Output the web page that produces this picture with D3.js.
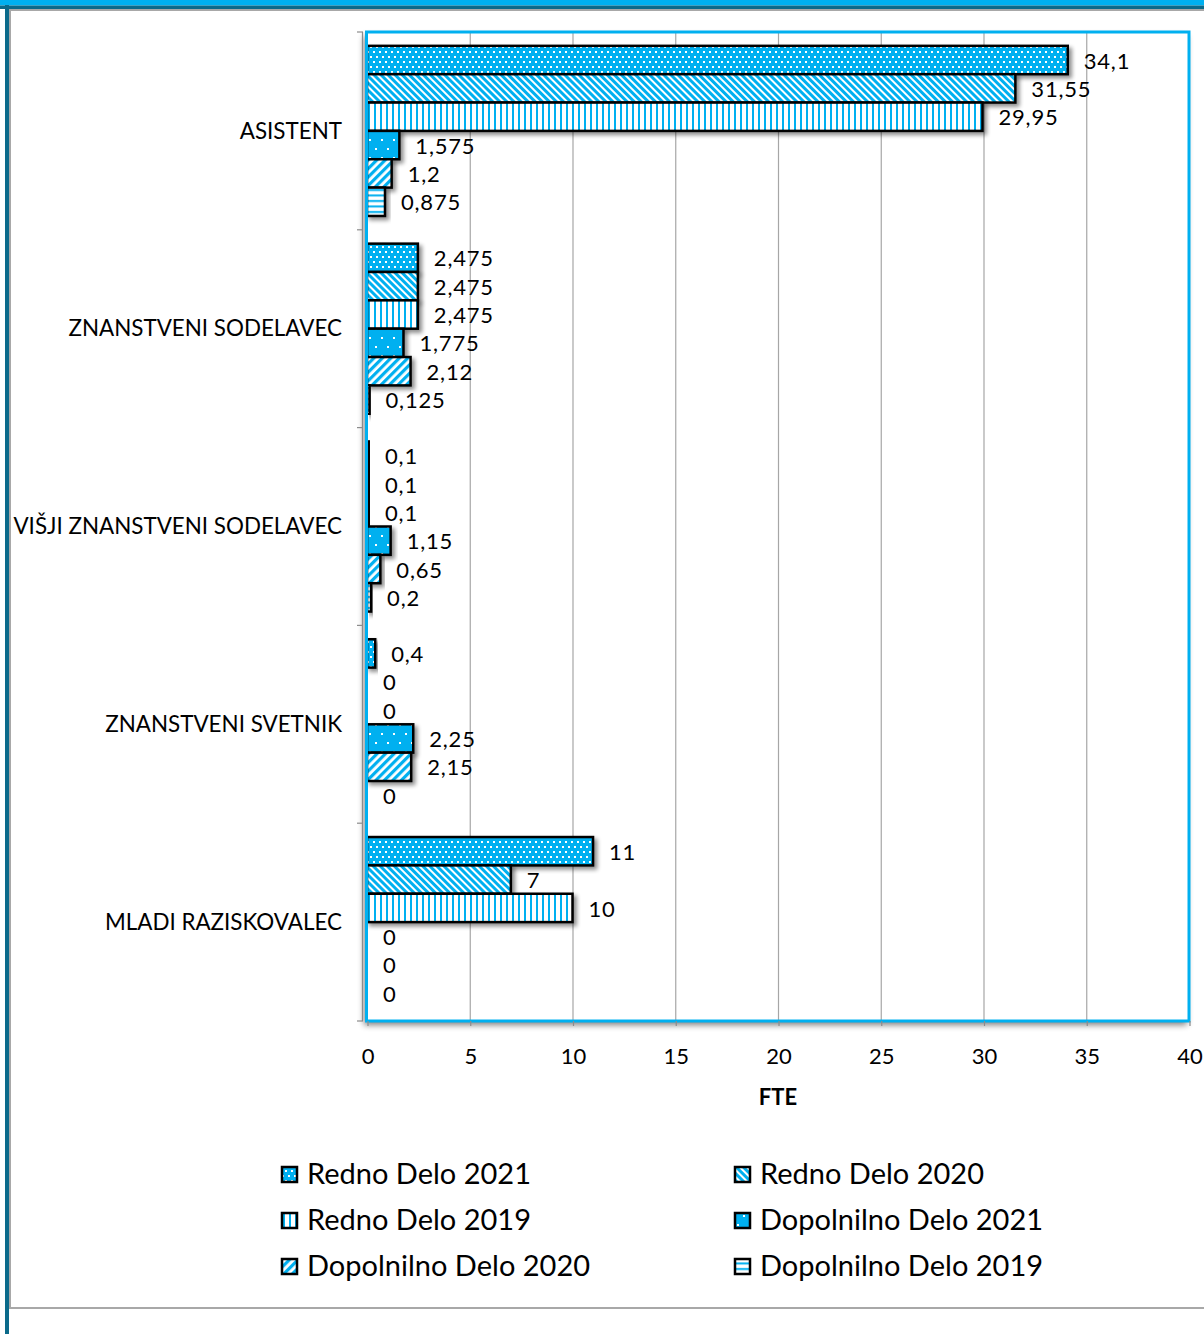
<!DOCTYPE html>
<html><head><meta charset="utf-8">
<script src="https://cdn.jsdelivr.net/npm/d3@7"></script>
<style>
html,body{margin:0;padding:0;background:#fff;}
svg{display:block;font-family:Lato,"Open Sans",sans-serif;}
</style></head>
<body>
<svg id="chart" width="1204" height="1334"></svg>
<script>
const categories = ["ASISTENT","ZNANSTVENI SODELAVEC","VIŠJI ZNANSTVENI SODELAVEC","ZNANSTVENI SVETNIK","MLADI RAZISKOVALEC"];
const seriesNames = ["Redno Delo 2021","Redno Delo 2020","Redno Delo 2019","Dopolnilno Delo 2021","Dopolnilno Delo 2020","Dopolnilno Delo 2019"];
const redno2021 = [34.1, 2.475, 0.1, 0.4, 11];
const redno2020 = [31.55, 2.475, 0.1, 0, 7];
const redno2019 = [29.95, 2.475, 0.1, 0, 10];
const dopolnilno2021 = [1.575, 1.775, 1.15, 2.25, 0];
const dopolnilno2020 = [1.2, 2.12, 0.65, 2.15, 0];
const dopolnilno2019 = [0.875, 0.125, 0.2, 0, 0];
const xTicks = [0,5,10,15,20,25,30,35,40];
const xTitle = "FTE";

const seriesValues = [redno2021, redno2020, redno2019, dopolnilno2021, dopolnilno2020, dopolnilno2019];
const BLUE = "#00B0F0";

const svg = d3.select("#chart");
const defs = svg.append("defs");

// Shadows
const f = defs.append("filter").attr("id","shadow").attr("x","-20%").attr("y","-20%").attr("width","150%").attr("height","180%");
f.append("feGaussianBlur").attr("in","SourceAlpha").attr("stdDeviation",2.2).attr("result","b");
f.append("feOffset").attr("in","b").attr("dx",3).attr("dy",3).attr("result","o");
f.append("feComponentTransfer").attr("in","o").attr("result","o2").append("feFuncA").attr("type","linear").attr("slope",0.45);
const fm = f.append("feMerge"); fm.append("feMergeNode").attr("in","o2"); fm.append("feMergeNode").attr("in","SourceGraphic");

const f2 = defs.append("filter").attr("id","pshadow").attr("x","-5%").attr("y","-5%").attr("width","110%").attr("height","110%");
f2.append("feGaussianBlur").attr("in","SourceAlpha").attr("stdDeviation",3).attr("result","b");
f2.append("feOffset").attr("in","b").attr("dx",-2).attr("dy",4).attr("result","o");
f2.append("feComponentTransfer").attr("in","o").attr("result","o2").append("feFuncA").attr("type","linear").attr("slope",0.5);
const fm2 = f2.append("feMerge"); fm2.append("feMergeNode").attr("in","o2"); fm2.append("feMergeNode").attr("in","SourceGraphic");

// Patterns
function pat(id, w, h, rot){
  const p = defs.append("pattern").attr("id",id).attr("patternUnits","userSpaceOnUse").attr("width",w).attr("height",h);
  if (rot) p.attr("patternTransform", "rotate(" + rot + ")");
  return p;
}
let p;
p = pat("p0", 6, 10); p.append("rect").attr("width",6).attr("height",10).attr("fill",BLUE);
p.append("rect").attr("x",1).attr("y",1).attr("width",2).attr("height",2).attr("fill","#fff");
p.append("rect").attr("x",4).attr("y",6).attr("width",2).attr("height",2).attr("fill","#fff");

p = pat("p1", 5, 10, -45); p.append("rect").attr("width",5).attr("height",10).attr("fill","#fff");
p.append("rect").attr("width",3).attr("height",10).attr("fill",BLUE);

p = pat("p2", 6, 10); p.append("rect").attr("width",6).attr("height",10).attr("fill","#fff");
p.append("rect").attr("x",2).attr("width",2).attr("height",10).attr("fill",BLUE);

p = pat("p3", 12, 18); p.append("rect").attr("width",12).attr("height",18).attr("fill",BLUE);
p.append("rect").attr("x",3).attr("y",4).attr("width",2).attr("height",2).attr("fill","#fff");
p.append("rect").attr("x",9).attr("y",13).attr("width",2).attr("height",2).attr("fill","#fff");

p = pat("p4", 6, 10, 45); p.append("rect").attr("width",6).attr("height",10).attr("fill","#fff");
p.append("rect").attr("width",3.2).attr("height",10).attr("fill",BLUE);

p = pat("p5", 10, 5.5); p.append("rect").attr("width",10).attr("height",5.5).attr("fill","#fff");
p.append("rect").attr("y",2).attr("width",10).attr("height",2).attr("fill",BLUE);

const fills = ["url(#p0)","url(#p1)","url(#p2)","url(#p3)","url(#p4)","url(#p5)"];

// Frame
svg.append("rect").attr("x",0).attr("y",0).attr("width",1204).attr("height",5.5).attr("fill",BLUE);
svg.append("rect").attr("x",0).attr("y",5.5).attr("width",1204).attr("height",3.5).attr("fill","#0B6A8A");
svg.append("rect").attr("x",5).attr("y",5).attr("width",4).attr("height",1329).attr("fill","#0B6A8A");
svg.append("line").attr("x1",9).attr("x2",1204).attr("y1",10).attr("y2",10).attr("stroke","#a8a8a8").attr("stroke-width",2);
svg.append("line").attr("x1",10).attr("x2",10).attr("y1",10).attr("y2",1308).attr("stroke","#a8a8a8").attr("stroke-width",2);
svg.append("line").attr("x1",9).attr("x2",1204).attr("y1",1308).attr("y2",1308).attr("stroke","#a8a8a8").attr("stroke-width",2);

// Scales
const L = 367, R = 1189, T = 32, B = 1021;
const x = d3.scaleLinear().domain([0, 40]).range([L, R]);
const y = d3.scaleBand().domain(categories).range([T, B]).paddingInner(0.14).paddingOuter(0.07);
const ys = d3.scaleBand().domain(d3.range(seriesNames.length)).range([0, y.bandwidth()]).padding(0);

// Plot area with shadow
svg.append("rect").attr("x",L-1).attr("y",T).attr("width",R-L+1).attr("height",B-T)
  .attr("fill","#fff").attr("filter","url(#pshadow)");

// Gridlines
svg.append("g").selectAll("line").data(xTicks.slice(1, -1)).join("line")
  .attr("x1", d => x(d) + 0.5).attr("x2", d => x(d) + 0.5).attr("y1", T).attr("y2", B)
  .attr("stroke","#a6a6a6").attr("stroke-width",1.2);

// Bars
const rows = [];
categories.forEach((c, ci) => seriesValues.forEach((arr, si) => rows.push({c, si, v: arr[ci]})));
svg.append("g").selectAll("rect").data(rows.filter(d => d.v > 0)).join("rect")
  .attr("x", x(0)).attr("y", d => y(d.c) + ys(d.si))
  .attr("width", d => x(d.v) - x(0)).attr("height", ys.bandwidth())
  .attr("fill", d => fills[d.si]).attr("stroke","#000").attr("stroke-width",2.5)
  .attr("filter","url(#shadow)");

// Plot border
svg.append("rect").attr("x",L-0.5).attr("y",T).attr("width",R-L+0.5).attr("height",B-T)
  .attr("fill","none").attr("stroke",BLUE).attr("stroke-width",3);

// Value labels
const fmt = v => String(v).replace(".", ",");
svg.append("g").selectAll("text").data(rows).join("text")
  .attr("x", d => x(d.v) + 16).attr("y", d => y(d.c) + ys(d.si) + ys.bandwidth()/2 + 3)
  .attr("dominant-baseline","middle").attr("font-size",22).attr("letter-spacing",0.8).attr("fill","#000")
  .text(d => fmt(d.v));

// Y axis line and ticks
const yAxisG = svg.append("g");
yAxisG.append("line").attr("x1",362.5).attr("x2",362.5).attr("y1",T).attr("y2",B).attr("stroke","#8c8c8c").attr("stroke-width",1.2);
const bounds = categories.map(c => y(c) - y.step()*y.paddingOuter()).concat([B]);
yAxisG.selectAll("line.t").data(bounds).join("line").attr("class","t")
  .attr("x1",357).attr("x2",363).attr("y1",d=>d).attr("y2",d=>d).attr("stroke","#8c8c8c").attr("stroke-width",1.2);
svg.append("g").selectAll("text").data(categories).join("text")
  .attr("x",342).attr("y", d => y(d) + y.bandwidth()/2 + 2).attr("text-anchor","end")
  .attr("dominant-baseline","middle").attr("font-size",22.4).attr("fill","#000").text(d => d);

// X axis
const xAxis = d3.axisBottom(x).tickValues(xTicks).tickSize(5).tickPadding(22).tickFormat(d => d);
const gx = svg.append("g").attr("transform", `translate(0.5,${B})`).call(xAxis);
gx.select(".domain").remove();
gx.selectAll(".tick line").attr("stroke","#8c8c8c").attr("stroke-width",1.2);
gx.selectAll(".tick text").attr("font-size",22).attr("fill","#000").attr("font-family","Lato,'Open Sans',sans-serif");
svg.append("text").attr("x",(L+R)/2).attr("y",1099).attr("text-anchor","middle").attr("dominant-baseline","middle")
  .attr("font-size",22).attr("font-weight","bold").text(xTitle);

// Legend
const legend = svg.append("g");
const lx = [281, 734], ly = [1174, 1220, 1266];
seriesNames.forEach((name, i) => {
  const col = i % 2, row = Math.floor(i / 2);
  const g = legend.append("g").attr("transform", `translate(${lx[col]},${ly[row]})`);
  g.append("rect").attr("x",1).attr("y",-7).attr("width",15).attr("height",15)
    .attr("fill", fills[i]).attr("stroke","#000").attr("stroke-width",2.5);
  g.append("text").attr("x",26).attr("y",3).attr("dominant-baseline","middle")
    .attr("font-size",29).attr("fill","#000").text(name);
});
</script>
</body></html>
